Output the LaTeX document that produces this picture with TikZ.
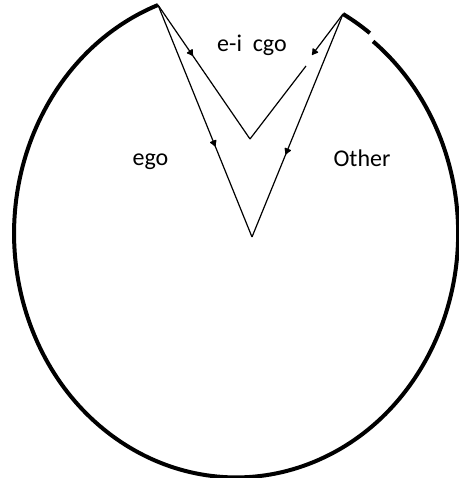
\documentclass[tikz,border=0pt]{standalone}
\usepackage{fontspec}
\setmainfont{Carlito}
\usetikzlibrary{arrows.meta,decorations.markings}
\tikzset{
  thin line/.style={line width=0.6pt},
  rim/.style={line width=2pt},
  lbl/.style={font=\fontsize{12}{14}\selectfont, anchor=base, inner sep=0pt},
  tipat/.style={postaction={decorate},decoration={markings,
     mark=at position #1 with {\arrow{Latex[length=3.6pt,width=4.2pt,round]}}}}
}
\begin{document}
\begin{tikzpicture}[x=0.5pt,y=0.5pt]
\useasboundingbox (0,0) rectangle (459,478);
\coordinate (L) at (158,473);
\coordinate (R) at (343,464);
\coordinate (I) at (250,339);
\coordinate (O) at (252,241);
\coordinate (Rt) at (312,423);
\coordinate (Rs) at (306,412);
% outer rim
\draw[rim] (L) arc[start angle=110.6, end angle=411.9, x radius=222, y radius=244];
\draw[rim] (R) arc[start angle=61.8, end angle=53.6, x radius=222, y radius=250];
% inner V
\draw[thin line, tipat=0.38] (L) -- (I);
\draw[thin line, -{Latex[length=3.6pt,width=4.2pt,round]}] (R) -- (Rt);
\draw[thin line] (Rs) -- (I);
% outer V
\draw[thin line, tipat=0.61] (L) -- (O);
\draw[thin line, tipat=0.63] (R) -- (O);
% labels
\node[lbl] (eicgo) at (252,426) {e-i\ \ cgo};
\node[lbl] (ego) at (150.5,313) {ego};
\node[lbl] (other) at (362,312) {Other};
\end{tikzpicture}
\end{document}
